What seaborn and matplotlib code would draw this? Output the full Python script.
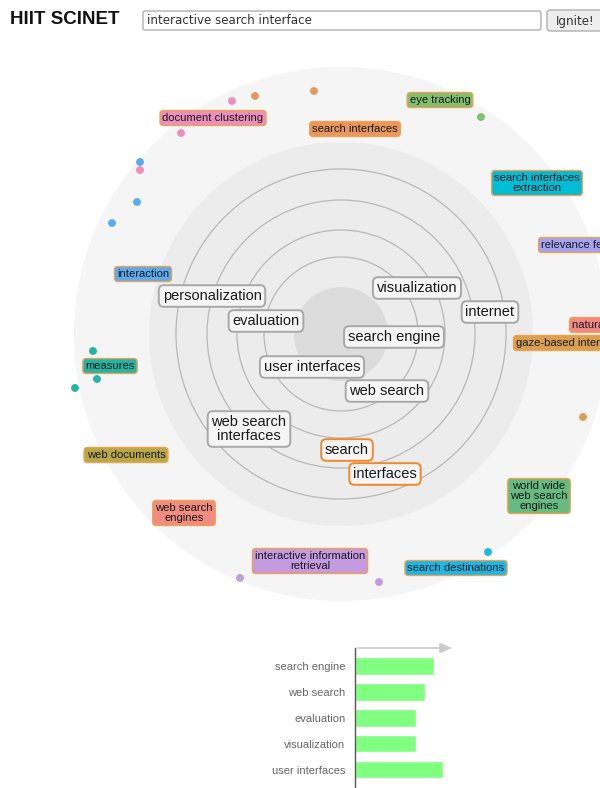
import matplotlib
matplotlib.use("Agg")
import matplotlib.pyplot as plt
from matplotlib.patches import Circle, FancyBboxPatch
import seaborn as sns
import pandas as pd

# ---------------- data ----------------
# central (selected) keywords in the radar, layout coordinates (pixels)
core_words = ["personalization", "visualization", "evaluation", "internet",
              "search engine", "user interfaces", "web search",
              "web search\ninterfaces", "search", "interfaces"]
core_x = [212, 417, 266, 490, 394, 312, 387, 249, 347, 385]
core_y = [296, 288, 321, 312, 337, 367, 391, 429, 450, 474]
core_query = [False, False, False, False, False, False, False, False, True, True]

# outer (suggested) keywords
outer_words = ["document clustering", "search interfaces", "eye tracking",
               "search interfaces\nextraction", "relevance feedback",
               "natural language", "gaze-based interaction", "interaction",
               "measures", "web documents", "web search\nengines",
               "interactive information\nretrieval", "world wide\nweb search\nengines",
               "search destinations"]
outer_x = [213, 355, 440, 537, 541, 572, 516, 143, 110, 126, 184, 310, 539, 456]
outer_y = [118, 129, 100, 183, 245, 325, 343, 274, 366, 455, 513, 561, 496, 568]
outer_group = ["pink", "orange", "green", "cyan2", "lavender", "salmon", "tan",
               "blue", "teal", "olive", "salmon2", "purple", "green2", "cyan"]

# small document dots
dot_x = [232, 255, 314, 181, 140, 140, 137, 112, 481, 93, 97, 75, 583, 488, 240, 379]
dot_y = [101, 96, 91, 133, 162, 170, 202, 223, 117, 351, 379, 388, 417, 552, 578, 582]
dot_group = ["pink", "orange", "orange", "pink", "blue", "pink", "blue", "blue",
             "green", "teal", "teal", "teal", "tan", "cyan", "purple", "purple"]

# bar chart
bar_labels = ["search engine", "web search", "evaluation", "visualization", "user interfaces"]
bar_values = [0.79, 0.70, 0.61, 0.61, 0.88]

title_text = "HIIT SCINET"
query_text = "interactive search interface"
button_text = "Ignite!"

palette = {
    "pink": "#ec8fbc", "orange": "#e8985e", "green": "#80c070", "cyan2": "#00bcd4",
    "lavender": "#a3a3f0", "salmon": "#f08888", "tan": "#d8a050", "blue": "#5aabf0",
    "teal": "#22b5a5", "olive": "#b8a84a", "salmon2": "#f08c80", "purple": "#c49ae0",
    "green2": "#66bb80", "cyan": "#1ab8e6",
}
edge_left_groups = ("lavender", "salmon", "tan")

# ---------------- figure ----------------
sns.set_theme(style="white")
plt.rcParams["font.family"] = ["Liberation Sans", "DejaVu Sans"]

W, H = 600, 788
fig = plt.figure(figsize=(W / 100, H / 100), dpi=100)
fig.patch.set_facecolor("white")

ax = fig.add_axes([0, 0, 1, 1])
ax.set_xlim(0, W)
ax.set_ylim(H, 0)
ax.axis("off")

cx, cy = 341, 334
ax.add_patch(Circle((cx, cy), 267, facecolor="#f5f5f5", edgecolor="none", zorder=0))
ax.add_patch(Circle((cx, cy), 192, facecolor="#ececec", edgecolor="none", zorder=0.5))
ax.add_patch(Circle((cx, cy), 47, facecolor="#dcdcdc", edgecolor="none", zorder=0.6))
for r in [77, 104, 134, 165]:
    ax.add_patch(Circle((cx, cy), r, facecolor="none", edgecolor="#b8b8b8", lw=0.9, zorder=0.7))

# dots
dots = pd.DataFrame({"x": dot_x, "y": dot_y, "g": dot_group})
sns.scatterplot(data=dots, x="x", y="y", hue="g", palette=palette, s=32,
                linewidth=0, legend=False, ax=ax, zorder=2)
ax.set_xlim(0, W)
ax.set_ylim(H, 0)
ax.set_xlabel("")
ax.set_ylabel("")

# core labels
for w, x, y, q in zip(core_words, core_x, core_y, core_query):
    ax.text(x, y, w, ha="center", va="center", fontsize=10.5, color="#1a1a1a",
            linespacing=1.0, zorder=4,
            bbox=dict(boxstyle="round,pad=0.26,rounding_size=0.35",
                      facecolor="#f5f5f5",
                      edgecolor="#f0882a" if q else "#a8a8a8", lw=1.4))

# outer labels
for w, x, y, g in zip(outer_words, outer_x, outer_y, outer_group):
    ax.text(x, y, w, ha="left" if g in edge_left_groups else "center",
            va="center", fontsize=8.1, color="#1a1a1a", linespacing=1.0, zorder=4,
            bbox=dict(boxstyle="round,pad=0.22,rounding_size=0.3",
                      facecolor=palette[g], edgecolor="#f0a050", lw=1.0))

# header
ax.text(10, 19, title_text, ha="left", va="center", fontsize=13.5,
        fontweight="bold", color="#111111")
ax.add_patch(FancyBboxPatch((143, 11), 398, 19, boxstyle="round,pad=0,rounding_size=2",
                            facecolor="white", edgecolor="#b0b0b0", lw=1))
ax.text(147, 20.5, query_text, ha="left", va="center", fontsize=8.6,
        color="#333333", family=["DejaVu Sans"])
ax.add_patch(FancyBboxPatch((547, 10), 60, 21, boxstyle="round,pad=0,rounding_size=3",
                            facecolor="#eeeeee", edgecolor="#b0b0b0", lw=1))
ax.text(556, 21, button_text, ha="left", va="center", fontsize=8.6,
        color="#333333", family=["DejaVu Sans"])

# ---------------- bar chart ----------------
bx0, bx1 = 355, 455
by0, by1 = 648, 788
bax = fig.add_axes([bx0 / W, 1 - by1 / H, (bx1 - bx0) / W, (by1 - by0) / H])
bax.patch.set_alpha(0)
bars = pd.DataFrame({"label": bar_labels, "value": bar_values})
sns.barplot(data=bars, x="value", y="label", orient="h", color="#80ff80",
            saturation=1, width=0.68, ax=bax)
bax.set_xlim(0, 1)
bax.set_ylim(4.71, -0.69)
bax.set_xlabel("")
bax.set_ylabel("")
bax.set_xticks([])
for s in ["top", "right", "bottom"]:
    bax.spines[s].set_visible(False)
bax.spines["left"].set_color("#555555")
bax.spines["left"].set_linewidth(1)
bax.tick_params(axis="y", length=0, pad=7, labelsize=8, labelcolor="#666666")
bax.annotate("", xy=(1.0, 1.0), xytext=(0, 1.0), xycoords="axes fraction",
             arrowprops=dict(arrowstyle="-|>,head_length=0.6,head_width=0.25",
                             color="#cccccc", lw=1.2))

fig.savefig("out.png", dpi=100, facecolor="white")
